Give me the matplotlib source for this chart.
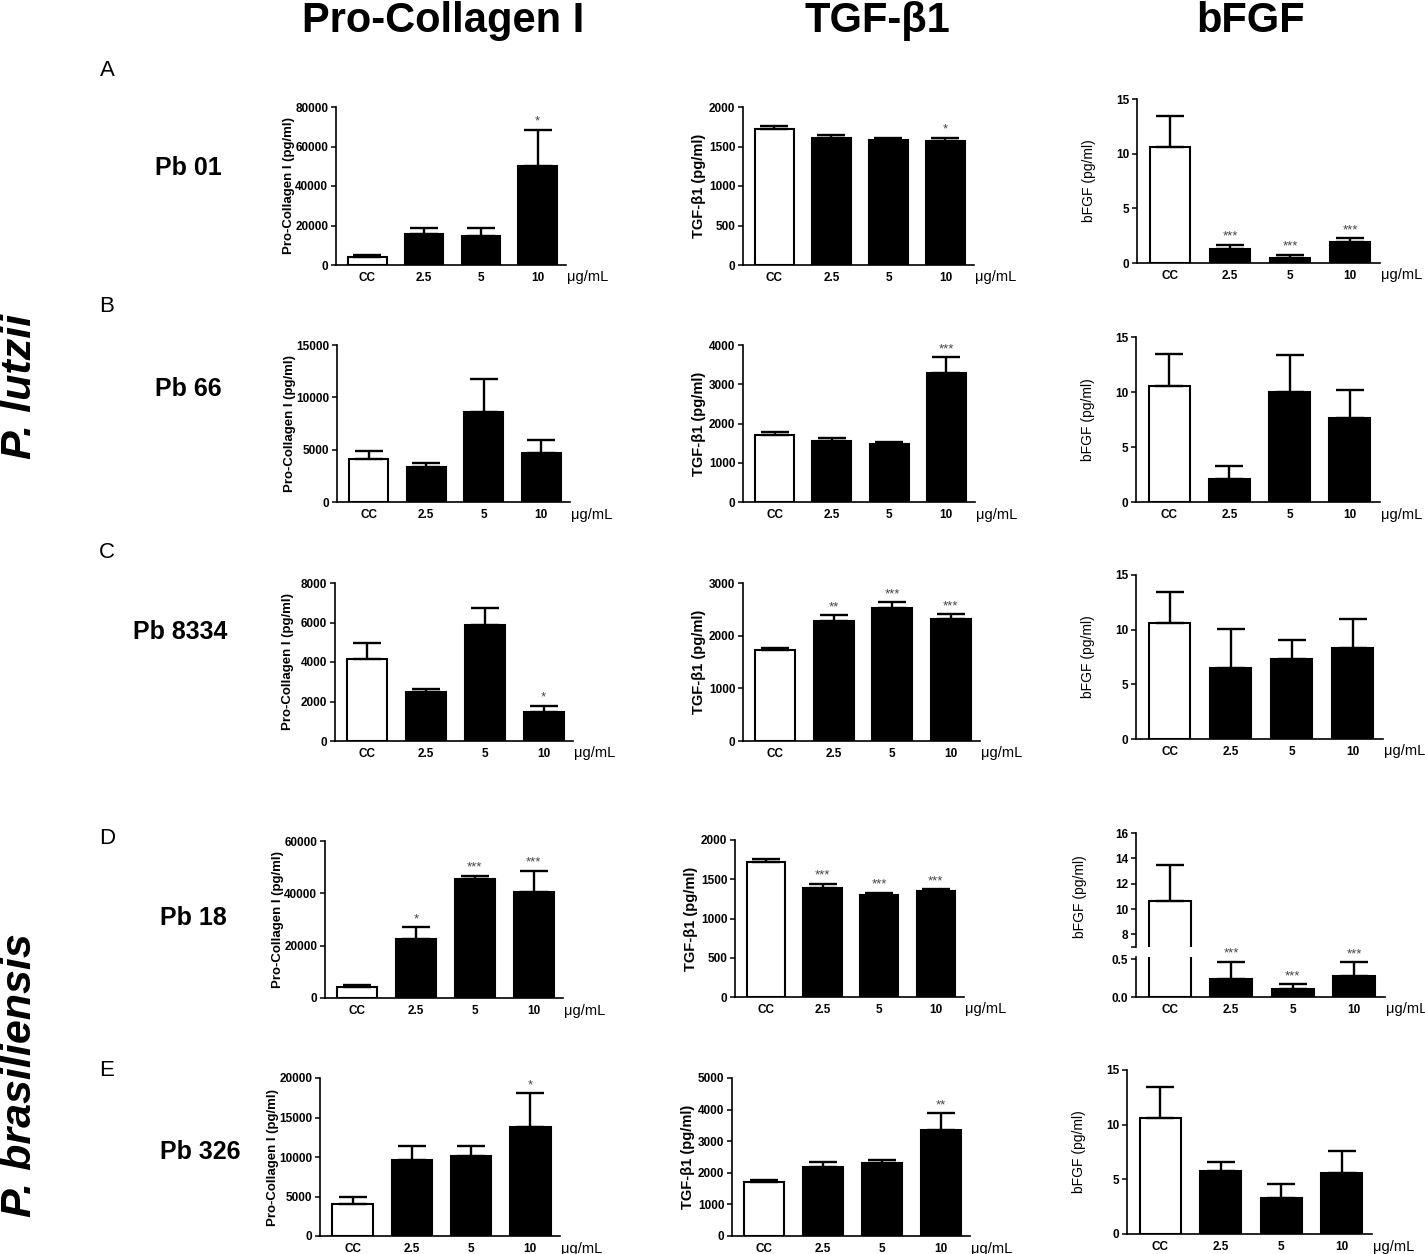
import numpy as np
import matplotlib
matplotlib.use("Agg")
import matplotlib.pyplot as plt

plt.rcParams["font.family"] = ["Liberation Sans", "DejaVu Sans"]

W, H = 1425, 1254

groups = ["CC", "2.5", "5", "10"]
strains = ["Pb 01", "Pb 66", "Pb 8334", "Pb 18", "Pb 326"]
row_letters = ["A", "B", "C", "D", "E"]
headers = ["Pro-Collagen I", "TGF-\u03b21", "bFGF"]
ylabels = ["Pro-Collagen I (pg/ml)", "TGF-\u03b21 (pg/ml)", "bFGF (pg/ml)"]

# Pro-Collagen I (pg/ml), one row per strain
procol_mean = [
    [4200, 15500, 14800, 50000],
    [4150, 3350, 8600, 4700],
    [4150, 2490, 5880, 1475],
    [4300, 22670, 45480, 40640],
    [4110, 9580, 10130, 13860],
]
procol_err = [
    [750, 3100, 3800, 18400],
    [750, 400, 3150, 1250],
    [800, 150, 850, 305],
    [700, 4330, 1270, 7890],
    [800, 1820, 1270, 4190],
]
procol_sig = [
    ["", "", "", "*"],
    ["", "", "", ""],
    ["", "", "", "*"],
    ["", "*", "***", "***"],
    ["", "", "", "*"],
]
procol_ymax = [80000, 15000, 8000, 60000, 20000]
procol_step = [20000, 5000, 2000, 20000, 5000]

# TGF-beta1 (pg/ml)
tgf_mean = [
    [1720, 1608, 1582, 1570],
    [1712, 1559, 1474, 3297],
    [1729, 2282, 2523, 2307],
    [1720, 1390, 1300, 1345],
    [1716, 2193, 2299, 3369],
]
tgf_err = [
    [40, 37, 26, 38],
    [60, 76, 43, 390],
    [31, 101, 115, 102],
    [40, 55, 25, 25],
    [53, 159, 95, 519],
]
tgf_sig = [
    ["", "", "", "*"],
    ["", "", "", "***"],
    ["", "**", "***", "***"],
    ["", "***", "***", "***"],
    ["", "", "", "**"],
]
tgf_ymax = [2000, 4000, 3000, 2000, 5000]
tgf_step = [500, 1000, 1000, 500, 1000]

# bFGF (pg/ml)
bfgf_mean = [
    [10.61, 1.28, 0.49, 1.89],
    [10.55, 2.12, 9.97, 7.67],
    [10.65, 6.48, 7.36, 8.33],
    [10.65, 0.24, 0.11, 0.28],
    [10.59, 5.75, 3.29, 5.54],
]
bfgf_err = [
    [2.86, 0.40, 0.24, 0.37],
    [2.87, 1.18, 3.36, 2.48],
    [2.75, 3.59, 1.67, 2.64],
    [2.83, 0.23, 0.06, 0.18],
    [2.86, 0.82, 1.24, 2.04],
]
bfgf_sig = [
    ["", "***", "***", "***"],
    ["", "", "", ""],
    ["", "", "", ""],
    ["", "***", "***", "***"],
    ["", "", "", ""],
]

# axes boxes in pixels: left, top, right, bottom
boxes = [
    [(336, 107, 566, 265), (743, 107, 974, 265), (1137, 99, 1380, 263)],
    [(337, 345, 570, 502), (743, 345, 975, 502), (1136, 337, 1380, 502)],
    [(335, 583, 573, 741), (743, 583, 980, 741), (1136, 575, 1383, 739)],
    [(325, 841, 563, 998), (735, 840, 964, 997), (1136, 833, 1385, 997)],
    [(320, 1078, 560, 1236), (732, 1078, 970, 1236), (1127, 1070, 1372, 1234)],
]
label_off = [47, 44, 48]
label_size = [9.5, 10.5, 10]
label_weight = ["bold", "bold", "normal"]

x = np.arange(len(groups))
colors = ["white", "black", "black", "black"]


def fx(px):
    return px / W


def fy(py):
    return 1 - py / H


def make_ax(fig, box):
    l, t, r, b = box
    return fig.add_axes([fx(l), fy(b), (r - l) / W, (b - t) / H])


def style_ax(ax):
    for s in ["top", "right"]:
        ax.spines[s].set_visible(False)
    for s in ["left", "bottom"]:
        ax.spines[s].set_linewidth(1.2)
    ax.tick_params(axis="y", direction="out", length=3.5, width=1.1, pad=2,
                   labelsize=8.5)
    ax.tick_params(axis="x", length=0, pad=5, labelsize=8.5)
    for lab in ax.get_yticklabels() + ax.get_xticklabels():
        lab.set_fontweight("bold")
    ax.set_xlim(-0.55, 3.5)


def draw_bars(ax, means, errs, sigs):
    ax.bar(x, means, width=0.68, color=colors, edgecolor="black",
           linewidth=1.5, zorder=2)
    ax.errorbar(x, means, yerr=[np.zeros(len(x)), errs], fmt="none",
                ecolor="black", elinewidth=1.7, capsize=10, capthick=1.7,
                zorder=3)
    for i, s in enumerate(sigs):
        if s:
            ax.annotate(s, (x[i], means[i] + errs[i]), xytext=(0, 1.5),
                        textcoords="offset points", ha="center", va="bottom",
                        fontsize=9.5, color="#444444")


def add_units(ax):
    ax.annotate("\u03bcg/mL", (1.0, 0), xycoords="axes fraction",
                xytext=(1, -9), textcoords="offset points",
                ha="left", va="center", fontsize=10.5)


def simple_panel(fig, box, means, errs, sigs, ymax, step, col):
    ax = make_ax(fig, box)
    draw_bars(ax, means, errs, sigs)
    ax.set_ylim(0, ymax)
    ticks = np.arange(0, ymax + step / 2, step)
    ax.set_yticks(ticks, [f"{int(v)}" for v in ticks])
    ax.set_xticks(x, groups)
    style_ax(ax)
    add_units(ax)
    width = box[2] - box[0]
    ax.text(-label_off[col] / width, 0.5, ylabels[col], transform=ax.transAxes,
            rotation=90, ha="center", va="center", fontsize=label_size[col],
            fontweight=label_weight[col])
    return ax


fig = plt.figure(figsize=(W / 100, H / 100), dpi=100)

for r in range(5):
    simple_panel(fig, boxes[r][0], procol_mean[r], procol_err[r], procol_sig[r],
                 procol_ymax[r], procol_step[r], 0)
    simple_panel(fig, boxes[r][1], tgf_mean[r], tgf_err[r], tgf_sig[r],
                 tgf_ymax[r], tgf_step[r], 1)
    if r != 3:
        simple_panel(fig, boxes[r][2], bfgf_mean[r], bfgf_err[r], bfgf_sig[r],
                     15, 5, 2)

# broken axis for Pb 18 bFGF
l, t, r_, b = boxes[3][2]
ax_hi = make_ax(fig, (l, t, r_, 947))
ax_lo = make_ax(fig, (l, 957, r_, b))
draw_bars(ax_hi, bfgf_mean[3], bfgf_err[3], ["", "", "", ""])
draw_bars(ax_lo, bfgf_mean[3], bfgf_err[3], bfgf_sig[3])
ax_hi.set_ylim(7, 16)
ax_hi.set_yticks([7, 8, 10, 12, 14, 16], ["", "8", "10", "12", "14", "16"])
ax_hi.set_xticks([])
style_ax(ax_hi)
ax_hi.spines["bottom"].set_visible(False)
ax_lo.set_ylim(0, 0.531)
ax_lo.set_yticks([0, 0.5], ["0.0", "0.5"])
ax_lo.set_xticks(x, groups)
style_ax(ax_lo)
add_units(ax_lo)
fig.text(fx(1080), fy(897), ylabels[2], rotation=90, ha="center", va="center",
         fontsize=label_size[2])

# column headers
for xc, txt in zip([443, 877, 1251], headers):
    fig.text(fx(xc), fy(21), txt, ha="center", va="center", fontsize=30,
             fontweight="bold")

# row letters and strain names
for yl, txt in zip([70, 307, 553, 838, 1070], row_letters):
    fig.text(fx(107), fy(yl), txt, ha="center", va="center", fontsize=16)
for (xs, ys), txt in zip([(188, 168), (188, 389), (180, 632), (193, 918),
                          (200, 1152)], strains):
    fig.text(fx(xs), fy(ys), txt, ha="center", va="center", fontsize=18,
             fontweight="bold")

# species labels
fig.text(fx(20), fy(386), "P. lutzii", rotation=90, ha="center", va="center",
         fontsize=31, fontweight="bold", fontstyle="italic")
fig.text(fx(20), fy(1075), "P. brasiliensis", rotation=90, ha="center",
         va="center", fontsize=31, fontweight="bold", fontstyle="italic")

fig.savefig("out.png", dpi=100)
